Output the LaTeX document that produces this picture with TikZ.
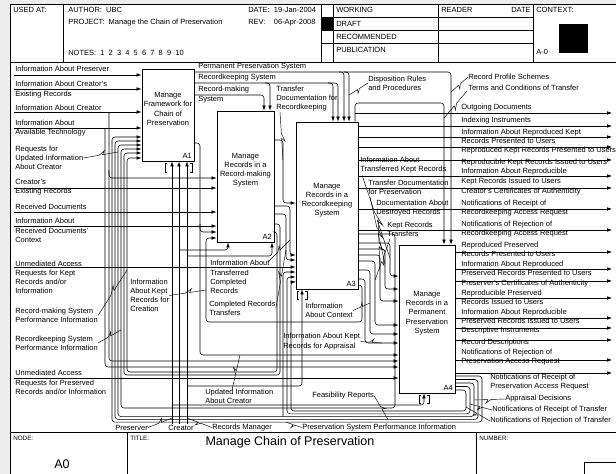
\documentclass[tikz,border=0pt]{standalone}
\usepackage{fontspec}
\setmainfont{Liberation Sans}
\usetikzlibrary{arrows.meta,calc}

\newcommand{\lf}{\fontsize{7.5}{9.2}\selectfont}
\newcommand{\tinyf}{\fontsize{6.3}{7.5}\selectfont}

\begin{document}
\begin{tikzpicture}[x=1pt,y=-1pt,>={Latex[length=5pt,width=3.6pt]},line width=0.55pt,
  box/.style={draw,line width=0.9pt,fill=white,inner sep=0pt},
  box text/.style={font=\lf,align=center,inner sep=0pt},
  lbl/.style={font=\lf,align=left,anchor=west,inner sep=0pt},
  box num/.style={font=\lf,anchor=south east,inner sep=2.5pt},
  flow/.style={->,rounded corners=3pt},
  squig/.style={line width=0.45pt,to path={-- ($(\tikztostart)!.45!(\tikztotarget)$) -- ($(\tikztostart)!.62!(\tikztotarget)!3.5pt!90:(\tikztotarget)$) -- ($(\tikztostart)!.55!(\tikztotarget)$) -- (\tikztotarget)}},
  tunnel/.style={line width=0.5pt}]

  \useasboundingbox (0,0) rectangle (616,474);
  \fill[black!7] (0,0) rectangle (616,474);
  \fill[white] (10,4) rectangle (620,478);
  \draw[line width=0.8pt] (620,4) -- (10,4) -- (10,478);

  \draw (10,62) -- (620,62) (63,4) -- (63,62) (321,4) -- (321,62) (333,4) -- (333,62)
    (438,4) -- (438,62) (533,4) -- (533,62);
  \draw (321,17) -- (533,17) (321,30) -- (533,30) (321,43) -- (533,43);
  \fill (321,17) rectangle (333,30);
  \fill (559,24) rectangle (588,53);
  \node[lbl] (usedat) at (13,10) {USED AT:};
  \node[lbl] (author) at (68,10) {AUTHOR:\ \ UBC};
  \node[lbl] (project) at (68,23) {PROJECT:\ \ Manage the Chain of Preservation};
  \node[lbl] (notes) at (68,53) {NOTES:\ \ 1\ \ 2\ \ 3\ \ 4\ \ 5\ \ 6\ \ 7\ \ 8\ \ 9\ \ 10};
  \node[lbl] (date) at (248,10) {DATE:\ \ 19-Jan-2004};
  \node[lbl] (rev) at (248,23) {REV:\ \ \ \ 06-Apr-2008};
  \node[lbl] (working) at (336,10) {WORKING};
  \node[lbl] (draft) at (336,23.5) {DRAFT};
  \node[lbl] (recommended) at (336,36.5) {RECOMMENDED};
  \node[lbl] (publication) at (336,50) {PUBLICATION};
  \node[lbl] (reader) at (441,10) {READER};
  \node[lbl,anchor=east] (readerdate) at (531,10) {DATE};
  \node[lbl] (context) at (536,10) {CONTEXT:};
  \node[lbl] (aminus) at (536,52) {A-0};

  \draw (10,432.5) -- (620,432.5) (127,432.5) -- (127,478) (476,432.5) -- (476,478);
  \draw (584,462) rectangle (620,480);
  \node[lbl,font=\tinyf] (nodelbl) at (13,438) {NODE:};
  \node[lbl,font=\tinyf] (titlelbl) at (130,438) {TITLE:};
  \node[lbl,font=\tinyf] (numberlbl) at (479,438) {NUMBER:};
  \node[font=\fontsize{12.5}{15}\selectfont,inner sep=0pt] (title) at (290,442) {Manage Chain of Preservation};
  \node[font=\fontsize{12.5}{14}\selectfont,inner sep=0pt] (nodeid) at (62,464) {A0};

  \node[box,minimum width=52pt,minimum height=92pt] (a1) at (168,115) {};
  \node[box,minimum width=57pt,minimum height=131pt] (a2) at (245.5,176.5) {};
  \node[box,minimum width=62pt,minimum height=167pt] (a3) at (327,205.5) {};
  \node[box,minimum width=56pt,minimum height=148pt] (a4) at (427,319) {};
  \node[box text] (a1t) at (168,109) {Manage\\Framework for\\Chain of\\Preservation};
  \node[box text] (a2t) at (245.5,170) {Manage\\Records in a\\Record-making\\System};
  \node[box text] (a3t) at (327,200) {Manage\\Records in a\\Recordkeeping\\System};
  \node[box text] (a4t) at (427,313) {Manage\\Records in a\\Permanent\\Preservation\\System};
  \node[box num] (a1n) at (a1.south east) {A1};
  \node[box num] (a2n) at (a2.south east) {A2};
  \node[box num] (a3n) at (a3.south east) {A3};
  \node[box num] (a4n) at (a4.south east) {A4};

  \coordinate (inPres) at (14,75);
  \coordinate (inCreEx) at (14,89);
  \coordinate (inCre) at (14,112);
  \coordinate (inTech) at (14,128);
  \coordinate (inExist) at (14,188);
  \coordinate (inRecv) at (14,212);
  \coordinate (inCtx) at (14,226);
  \coordinate (inUnmK) at (14,267);
  \coordinate (inUnmP) at (14,378);
  \coordinate (outOD) at (612,113);
  \coordinate (outII) at (612,126);
  \coordinate (outIRK) at (612,137);
  \coordinate (outRKP) at (612,147);
  \coordinate (outRKI) at (612,160);
  \coordinate (outIRKI) at (612,176);
  \coordinate (outCCA) at (612,188);
  \coordinate (outNRecR) at (612,209);
  \coordinate (outNRejR) at (612,230);
  \coordinate (outRPP) at (612,252);
  \coordinate (outIRPP) at (612,269);
  \coordinate (outPCA) at (612,281);
  \coordinate (outRPI) at (612,298);
  \coordinate (outIRPI) at (612,318);
  \coordinate (outDI) at (612,328);
  \coordinate (outRD) at (612,340);
  \coordinate (outNRejP) at (612,360);
  \coordinate (outNRecP) at (612,373);
  \coordinate (mPres) at (172,424);
  \coordinate (mCre) at (179,424);
  \coordinate (mRM) at (187,424);

  \draw[flow] (inPres) -- (a1.west |- inPres);
  \draw[flow] (inCreEx) -- (a1.west |- inCreEx);
  \draw[flow] (inCre) -- (a1.west |- inCre);
  \draw[flow] (inTech) -- (a1.west |- inTech);
  \draw[flow] (inCre -| 109,0) -- (109,361) -- (a4.west |- 0,361);
  \draw[flow] (109,170) |- (a2.west |- 0,178);
  \draw[flow] (inTech -| 105,0) -- (105,367) -- (a4.west |- 0,367);
  \draw[flow] (inExist) -- (a2.west |- inExist);
  \draw[flow] (inRecv) -- (a2.west |- inRecv);
  \draw[flow] (inCtx) -- (a2.west |- inCtx);
  \draw[flow] (inUnmK) -- (a3.west |- inUnmK);
  \draw[flow] (inUnmP) -- (a4.west |- inUnmP);

  \draw[flow] (a1.east |- 0,72) -| (a4.north -| 451,0);
  \draw[flow] (339,72) -| (a3.north -| 344,0);
  \draw[flow] (344,72) -| (a3.north -| 349,0);
  \draw[flow] (a1.east |- 0,83) -| (a3.north -| 338,0);
  \draw[flow] (328,83) -| (a3.north -| 333,0);
  \draw[flow] (265,83) -| (a2.north -| 270,0);
  \draw[flow] (a1.east |- 0,95) -| (a2.north -| 264,0);
  \draw[flow] (a1.east |- 0,143) -- (200,143) -- (200,355) -- (a4.west |- 0,355);
  \draw[flow] (200,224) |- (a2.west |- 0,232);

  \draw[flow] (a2.east |- 0,140) -- (283,140) -- (283,203) -- (a3.west |- 0,203);
  \draw[flow] (a2.east |- 0,206) -- (290,206) -- (290,255) -- (a3.west |- 0,255);
  \draw[flow] (a2.east |- 0,214) -- (286,214) -- (286,260) -- (a3.west |- 0,260);
  \draw[flow] (a2.east |- 0,224) -- (280,224) -- (280,375) -- (124,375) -- (124,153) -- (a1.west |- 0,153);
  \draw[flow] (a2.east |- 0,232) -- (277,232) -- (277,372) -- (127,372) -- (127,158) -- (a1.west |- 0,158);

  \draw[flow] (a3.north -| 355,0) -- (355,103) -- (444,103) -- (a4.north -| 444,0);
  \draw[flow] (355,113) -- (outOD);
  \draw[flow] (a3.east |- outII) -- (outII);
  \draw[flow] (a3.east |- outIRK) -- (outIRK);
  \draw[flow] (a3.east |- outRKP) -- (outRKP);
  \draw[flow] (a3.east |- outRKI) -- (outRKI);
  \draw[flow] (a3.east |- outIRKI) -- (outIRKI);
  \draw[flow] (a3.east |- outCCA) -- (outCCA);
  \draw[flow] (a3.east |- outNRecR) -- (outNRecR);
  \draw[flow] (a3.east |- outNRejR) -- (outNRejR);
  \draw[flow] (a3.east |- 0,243) -- (390,243) -- (390,276) -- (a4.west |- 0,276);
  \draw[flow] (a3.east |- 0,249) -- (385,249) -- (385,289) -- (a4.west |- 0,289);
  \draw[flow] (a3.east |- 0,255) -- (380,255) -- (380,301) -- (a4.west |- 0,301);
  \draw[flow] (a3.east |- 0,261) -- (375,261) -- (375,325) -- (a4.west |- 0,325);
  \draw[flow] (a3.east |- 0,270) -- (370,270) -- (370,334) -- (a4.west |- 0,334);
  \draw[flow] (a3.east |- 0,279) -- (365,279) -- (365,343) -- (a4.west |- 0,343);
  \draw[flow] (a3.east |- 0,285) -- (362,285) -- (362,322) -- (206,322) -- (206,238) -- (a2.west |- 0,238);
  \draw[flow] (a3.east |- 0,234) -- (395,234) -- (395,408) -- (121,408) -- (121,149) -- (a1.west |- 0,149);

  \draw[flow] (a4.east |- outRPP) -- (outRPP);
  \draw[flow] (a4.east |- outIRPP) -- (outIRPP);
  \draw[flow] (a4.east |- outPCA) -- (outPCA);
  \draw[flow] (a4.east |- outRPI) -- (outRPI);
  \draw[flow] (a4.east |- outIRPI) -- (outIRPI);
  \draw[flow] (a4.east |- outDI) -- (outDI);
  \draw[flow] (a4.east |- outRD) -- (outRD);
  \draw[flow] (a4.east |- outNRejP) -- (outNRejP);
  \draw[flow] (a4.east |- outNRecP) -- (outNRecP);
  \draw[flow] (a4.east |- 0,376) -- (482,376) -- (482,422.2) -- (112,422.2) -- (112,137) -- (a1.west |- 0,137);
  \draw[flow] (a4.east |- 0,379.5) -- (478,379.5) -- (478,419.4) -- (115,419.4) -- (115,141) -- (a1.west |- 0,141);
  \draw[flow] (a4.east |- 0,383) -- (474,383) -- (474,416.6) -- (118,416.6) -- (118,145) -- (a1.west |- 0,145);
  \draw[flow] (283,416.6) -- (283,272) -- (a3.west |- 0,272);
  \draw[flow] (a4.east |- 0,386.5) -- (470,386.5) -- (470,413.8) -- (287,413.8) -- (287,277) -- (a3.west |- 0,277);
  \draw[flow] (a4.east |- 0,390) -- (466,390) -- (466,411) -- (291,411) -- (291,282) -- (a3.west |- 0,282);

  \draw[flow] (mPres) -- (a1.south -| mPres);
  \draw[flow] (mCre) -- (a1.south -| mCre);
  \draw[flow] (mRM) -- (a1.south -| mRM);
  \draw[flow] (mPres |- 0,405) -- (424,405) -- (a4.south -| 424,0);
  \draw[flow] (mCre |- 0,250) -| (a2.south -| 228,0);
  \draw[flow] (mRM |- 0,256) -| (a2.south -| 272,0);
  \draw[flow] (mRM |- 0,386) -| (a3.south -| 302,0);
  \draw[tunnel] (167,163) -- (165,163) -- (165,172) -- (167,172) (190,163) -- (192,163) -- (192,172) -- (190,172);
  \draw[tunnel] (299,291) -- (297,291) -- (297,299) -- (299,299) (305,291) -- (307,291) -- (307,299) -- (305,299);
  \draw[tunnel] (421,395) -- (419,395) -- (419,403) -- (421,403) (427,395) -- (429,395) -- (429,403) -- (427,403);

  \node[lbl] (lPres) at (15,69) {Information About Preserver};
  \node[lbl] (lCreEx) at (15,89.5) {Information About Creator's\\Existing Records};
  \node[lbl] (lCre) at (15,108) {Information About Creator};
  \node[lbl] (lTech) at (15,128) {Information About\\Available Technology};
  \node[lbl] (lReq) at (15,158) {Requests for\\Updated Information\\About Creator};
  \node[lbl] (lExist) at (15,187.5) {Creator's\\Existing Records};
  \node[lbl] (lRecv) at (15,207) {Received Documents};
  \node[lbl] (lCtx) at (15,230.5) {Information About\\Received Documents'\\Context};
  \node[lbl] (lUnmK) at (15,277.5) {Unmediated Access\\Requests for Kept\\Records and/or\\Information};
  \node[lbl] (lRMPerf) at (15,315.5) {Record-making System\\Performance Information};
  \node[lbl] (lRKPerf) at (15,343) {Recordkeeping System\\Performance Information};
  \node[lbl] (lUnmP) at (15,382.5) {Unmediated Access\\Requests for Preserved\\Records and/or Information};

  \node[lbl] (lPPS) at (198,67) {Permanent Preservation System};
  \node[lbl] (lRKS) at (198,78) {Recordkeeping System};
  \node[lbl] (lRMS) at (198,94.5) {Record-making\\System};
  \node[lbl] (lTDR) at (276,98.5) {Transfer\\Documentation for\\Recordkeeping};
  \node[lbl] (lDisp) at (368,83) {Disposition Rules\\and Procedures};
  \node[lbl] (lRPS) at (468,77) {Record Profile Schemes};
  \node[lbl] (lTerms) at (468,88) {Terms and Conditions of Transfer};

  \node[lbl] (lOD) at (461,108) {Outgoing Documents};
  \node[lbl] (lII) at (461,121) {Indexing Instruments};
  \node[lbl] (lIRK) at (461,136) {Information About Reproduced Kept\\Records Presented to Users};
  \node[lbl] (lRKP) at (461,151) {Reproduced Kept Records Presented to Users};
  \node[lbl] (lRKI) at (461,163) {Reproducible Kept Records Issued to Users};
  \node[lbl] (lIRKI) at (461,176.5) {Information About Reproducible\\Kept Records Issued to Users};
  \node[lbl] (lCCA) at (461,192) {Creator's Certificates of Authenticity};
  \node[lbl] (lNRecR) at (461,208) {Notifications of Receipt of\\Recordkeeping Access Request};
  \node[lbl] (lNRejR) at (461,229) {Notifications of Rejection of\\Recordkeeping Access Request};
  \node[lbl] (lRPP) at (461,249) {Reproduced Preserved\\Records Presented to Users};
  \node[lbl] (lIRPP) at (461,268.5) {Information About Reproduced\\Preserved Records Presented to Users};
  \node[lbl] (lPCA) at (461,284) {Preserver's Certificates of Authenticity};
  \node[lbl] (lRPI) at (461,297.5) {Reproducible Preserved\\Records Issued to Users};
  \node[lbl] (lIRPI) at (461,316.5) {Information About Reproducible\\Preserved Records Issued to Users};
  \node[lbl] (lDI) at (461,331) {Descriptive Instruments};
  \node[lbl] (lRD) at (461,343) {Record Descriptions};
  \node[lbl] (lNRejP) at (461,357) {Notifications of Rejection of\\Preservation Access Request};
  \node[lbl] (lNRecP) at (490,382) {Notifications of Receipt of\\Preservation Access Request};
  \node[lbl] (lApp) at (505,399) {Appraisal Decisions};
  \node[lbl] (lNRT) at (492,410) {Notifications of Receipt of Transfer};
  \node[lbl] (lNRjT) at (490,421) {Notifications of Rejection of Transfer};

  \node[lbl] (lITK) at (360,165) {Information About\\Transferred Kept Records};
  \node[lbl] (lTDP) at (368,187) {Transfer Documentation\\for Preservation};
  \node[lbl] (lDAD) at (376,208) {Documentation About\\Destroyed Records};
  \node[lbl] (lKRT) at (387,229) {Kept Records\\Transfers};
  \node[lbl] (lITC) at (210,277) {Information About\\Transferred\\Completed\\Records};
  \node[lbl] (lCRT) at (209,308.5) {Completed Records\\Transfers};
  \node[lbl] (lKRC) at (130,295.5) {Information\\About Kept\\Records for\\Creation};
  \node[lbl] (lIAC) at (305,310.5) {Information\\About Context};
  \node[lbl] (lKRA) at (283,341.5) {Information About Kept\\Records for Appraisal};
  \node[lbl] (lUIC) at (205,396.5) {Updated Information\\About Creator};
  \node[lbl] (lFeas) at (312,396) {Feasibility Reports};
  \node[lbl] (lPresM) at (115,427.5) {Preserver};
  \node[font=\lf,inner sep=0pt] (lCreM) at (181,427.5) {Creator};
  \node[lbl] (lRM) at (212,427.5) {Records Manager};
  \node[lbl] (lPSPI) at (302,427.5) {Preservation System Performance Information};

  \draw[squig] (lReq.east) to (118,152);
  \draw[squig] (lRMPerf.east) to (127,270);
  \draw[squig] (lRKPerf.east) to (121,330);
  \draw[squig] (280,112) to (283,160);
  \draw[squig] (lDisp.west) to (349,95);
  \draw[squig] (lRPS.west) to (451,92);
  \draw[squig] (467,91) to (444,118);
  \draw[squig] (362,175) to (390,258);
  \draw[squig] (370,197) to (385,264);
  \draw[squig] (378,218) to (380,270);
  \draw[squig] (390,239) to (375,280);
  \draw[squig] (268,262) to (290,240);
  \draw[squig] (lCRT.east) to (286,250);
  \draw[squig] (lKRC.east) to (206,290);
  \draw[squig] (lIAC.east) to (370,303);
  \draw[squig] (lKRA.east) to (382,343);
  \draw[squig] (232,390) to (240,355);
  \draw[squig] (lFeas.east) to (388,419.4);
  \draw[squig] (lPresM.east) to (172,418);
  \draw[squig] (lRM.west) to (187,418);
  \draw[squig] (lPSPI.west) to (286,422.2);
  \draw[squig] (lApp.west) to (474,400);
  \draw[squig] (lNRT.west) to (470,404);
  \draw[squig] (lNRjT.west) to (466,407);
\end{tikzpicture}
\end{document}
